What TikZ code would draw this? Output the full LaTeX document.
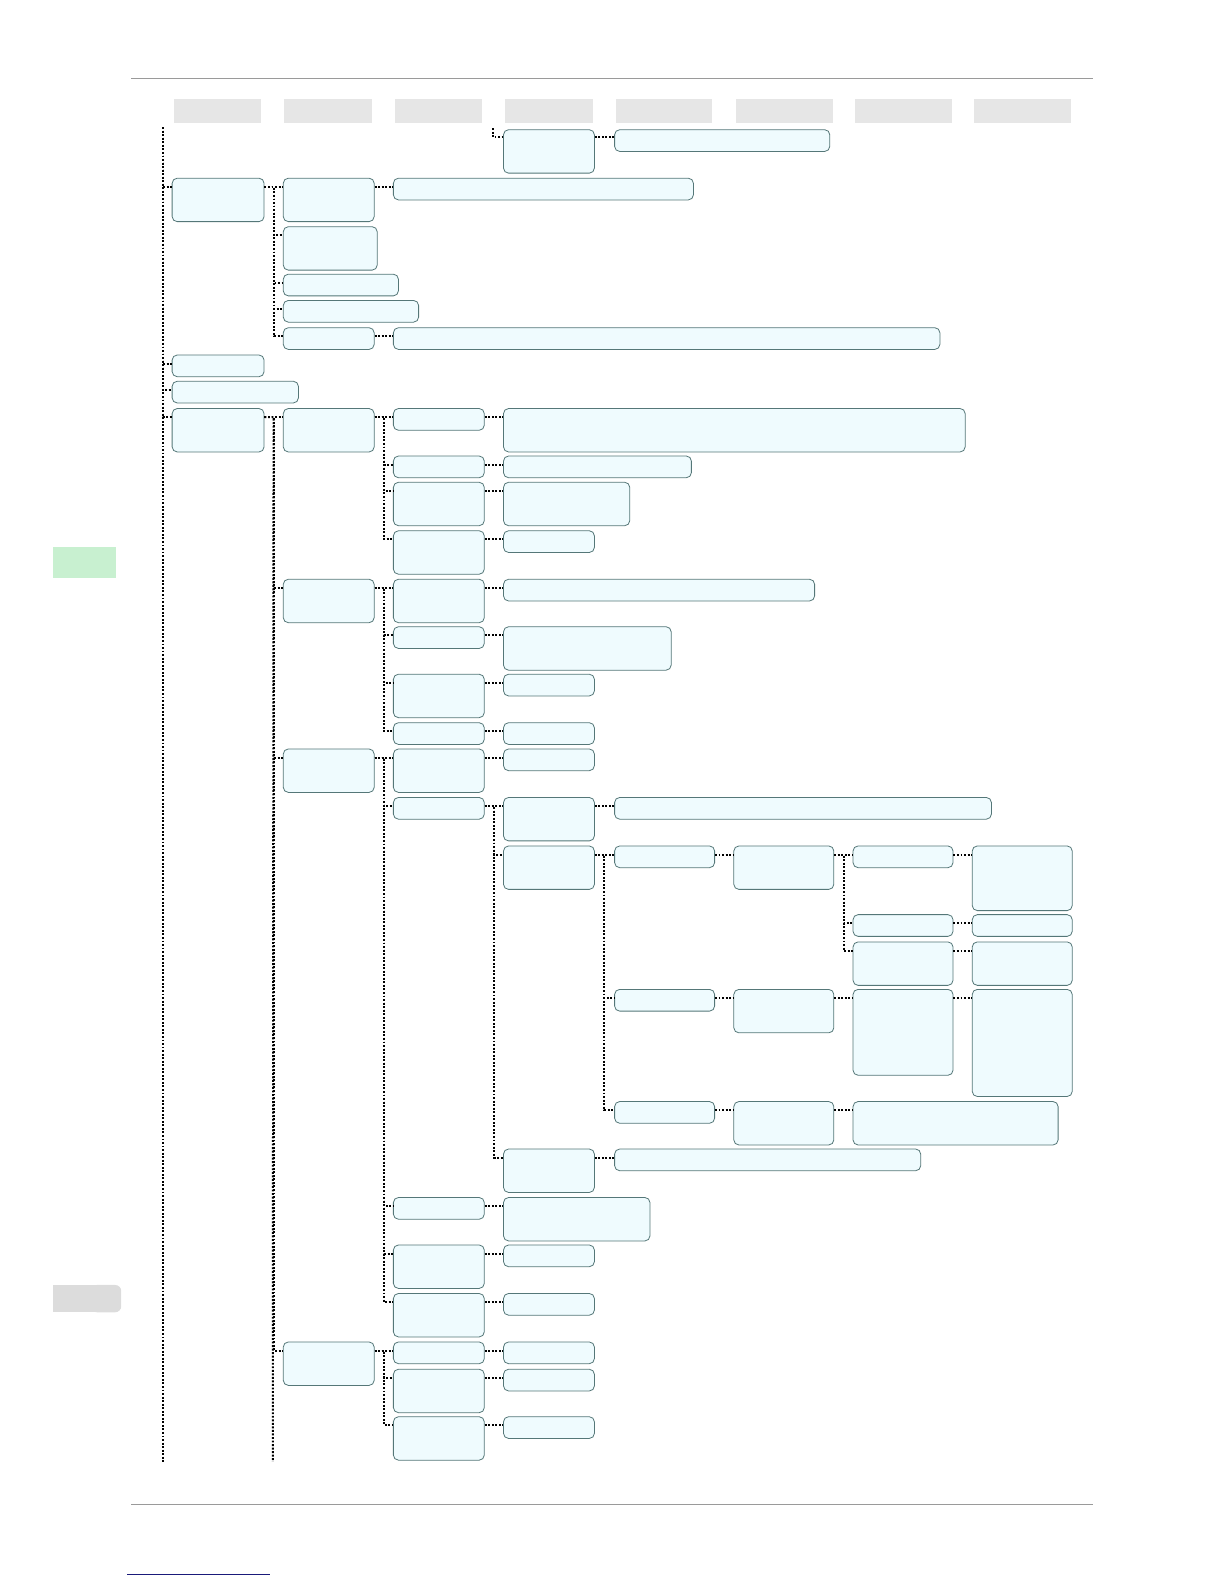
\documentclass[tikz,border=0pt]{standalone}
\usetikzlibrary{calc}
\definecolor{boxfill}{HTML}{EFFBFE}
\definecolor{boxline}{HTML}{557778}
\definecolor{headfill}{HTML}{E6E6E6}
\definecolor{rulegray}{HTML}{9A9A9A}
\definecolor{tabgreen}{HTML}{C8F0D0}
\definecolor{tabgray}{HTML}{DCDCDC}
\definecolor{linkblue}{HTML}{1A1A7A}
\begin{document}
\begin{tikzpicture}[x=1pt, y=-1pt, box/.style={draw=boxline, fill=boxfill, line width=0.8pt, rounded corners=5pt, anchor=north west, inner sep=0pt, minimum width=90pt, minimum height=21.5pt}, tall/.style={minimum height=43pt}, wide/.style={minimum width=99pt}, head/.style={fill=headfill, anchor=north west, inner sep=0pt, minimum height=24pt}, link/.style={line width=2pt, dash pattern=on 1.9pt off 1.6pt}]
\useasboundingbox (0,0) rectangle (1212,1568);
% page furniture
\draw[rulegray, line width=1pt] (130,78) -- (1082,78);
\draw[rulegray, line width=1pt] (130,1489) -- (1082,1489);
\draw[linkblue, line width=1pt] (126,1559) -- (267,1559);
\fill[tabgreen] (52,541) rectangle (115,572);
\fill[tabgray] (52,1272) rectangle (110,1299);
\fill[tabgray, rounded corners=6pt] (90,1272) rectangle (120,1299);
\foreach \x/\w [count=\i] in {172/86, 281/87, 391/86, 500/87, 610/95, 728/96, 846/96, 964/96}
  \node[head, minimum width=\w pt] (head\i) at (\x,98) {};
% continued from previous page
\node[box, tall] (cont) at (498,128) {};
\node[box, minimum width=213pt] (contA) at (608,128) {};
% level 1
\node[box, tall, minimum width=91pt] (A) at (170,176) {};
\node[box, minimum width=91pt] (B) at (170,351) {};
\node[box, minimum width=125pt] (C) at (170,377) {};
\node[box, tall, minimum width=91pt] (D) at (170,404) {};
% first group
\node[box, tall] (A1) at (280,176) {};
\node[box, minimum width=297pt] (A1a) at (389,176) {};
\node[box, tall, minimum width=93pt] (A2) at (280,224) {};
\node[box, minimum width=114pt] (A3) at (280,271) {};
\node[box, minimum width=134pt] (A4) at (280,297) {};
\node[box] (A5) at (280,324) {};
\node[box, minimum width=541pt] (A5a) at (389,324) {};
% fourth group
\node[box, tall] (D1) at (280,404) {};
\node[box] (D1a) at (389,404) {};
\node[box, tall, minimum width=457pt] (D1a1) at (498,404) {};
\node[box] (D1b) at (389,451) {};
\node[box, minimum width=186pt] (D1b1) at (498,451) {};
\node[box, tall] (D1c) at (389,477) {};
\node[box, tall, minimum width=125pt] (D1c1) at (498,477) {};
\node[box, tall] (D1d) at (389,525) {};
\node[box] (D1d1) at (498,525) {};
\node[box, tall] (D2) at (280,573) {};
\node[box, tall] (D2a) at (389,573) {};
\node[box, minimum width=308pt] (D2a1) at (498,573) {};
\node[box] (D2b) at (389,620) {};
\node[box, tall, minimum width=166pt] (D2b1) at (498,620) {};
\node[box, tall] (D2c) at (389,667) {};
\node[box] (D2c1) at (498,667) {};
\node[box] (D2d) at (389,715) {};
\node[box] (D2d1) at (498,715) {};
\node[box, tall] (D3) at (280,741) {};
\node[box, tall] (D3a) at (389,741) {};
\node[box] (D3a1) at (498,741) {};
\node[box] (D3b) at (389,789) {};
\node[box, tall] (D3b1) at (498,789) {};
\node[box, minimum width=373pt] (D3b1a) at (608,789) {};
\node[box, tall] (D3b2) at (498,837) {};
\node[box, wide] (E1) at (608,837) {};
\node[box, wide, tall] (E1a) at (726,837) {};
\node[box, wide] (E1a1) at (844,837) {};
\node[box, wide, minimum height=64pt] (E1a1a) at (962,837) {};
\node[box, wide] (E1a2) at (844,905) {};
\node[box, wide] (E1a2a) at (962,905) {};
\node[box, wide, tall] (E1a3) at (844,932) {};
\node[box, wide, tall] (E1a3a) at (962,932) {};
\node[box, wide] (E2) at (608,979) {};
\node[box, wide, tall] (E2a) at (726,979) {};
\node[box, wide, minimum height=85pt] (E2a1) at (844,979) {};
\node[box, wide, minimum height=106pt] (E2a1a) at (962,979) {};
\node[box, wide] (E3) at (608,1090) {};
\node[box, wide, tall] (E3a) at (726,1090) {};
\node[box, tall, minimum width=203pt] (E3a1) at (844,1090) {};
\node[box, tall] (D3b3) at (498,1137) {};
\node[box, minimum width=303pt] (D3b3a) at (608,1137) {};
\node[box] (D3c) at (389,1185) {};
\node[box, tall, minimum width=145pt] (D3c1) at (498,1185) {};
\node[box, tall] (D3d) at (389,1232) {};
\node[box] (D3d1) at (498,1232) {};
\node[box, tall] (D3e) at (389,1280) {};
\node[box] (D3e1) at (498,1280) {};
\node[box, tall] (D4) at (280,1328) {};
\node[box] (D4a) at (389,1328) {};
\node[box] (D4a1) at (498,1328) {};
\node[box, tall] (D4b) at (389,1355) {};
\node[box] (D4b1) at (498,1355) {};
\node[box, tall] (D4c) at (389,1402) {};
\node[box] (D4c1) at (498,1402) {};
% dotted tree lines
\coordinate (trunktop) at (161,126);
\coordinate (trunkend) at (161,1447);
\coordinate (Dend) at (270,1447);
\coordinate (conttop) at (488,127);
\draw[link] (trunktop) -- (trunkend);
\foreach \n in {A,B,C,D}
  \draw[link] (trunktop) |- ($(\n.north west)+(0,9)$);
\draw[link] (conttop) |- ($(cont.north west)+(0,8)$);
\draw[link] ($(cont.north east)+(0,8)$) -- ($(contA.north west)+(0,8)$);
\draw[link] ($(D.north east)+(0,9)$) -- ++(9,0) -- (Dend);
\foreach \p/\c in {A/A1, A/A2, A/A3, A/A4, A/A5, A1/A1a, A5/A5a,
    D/D1, D/D2, D/D3, D/D4,
    D1/D1a, D1/D1b, D1/D1c, D1/D1d, D1a/D1a1, D1b/D1b1, D1c/D1c1, D1d/D1d1,
    D2/D2a, D2/D2b, D2/D2c, D2/D2d, D2a/D2a1, D2b/D2b1, D2c/D2c1, D2d/D2d1,
    D3/D3a, D3/D3b, D3/D3c, D3/D3d, D3/D3e, D3a/D3a1,
    D3b/D3b1, D3b/D3b2, D3b/D3b3, D3b1/D3b1a, D3b3/D3b3a,
    D3b2/E1, D3b2/E2, D3b2/E3, E1/E1a, E1a/E1a1, E1a/E1a2, E1a/E1a3,
    E1a1/E1a1a, E1a2/E1a2a, E1a3/E1a3a, E2/E2a, E2a/E2a1, E2a1/E2a1a,
    E3/E3a, E3a/E3a1, D3c/D3c1, D3d/D3d1, D3e/D3e1,
    D4/D4a, D4/D4b, D4/D4c, D4a/D4a1, D4b/D4b1, D4c/D4c1}
  \draw[link] ($(\p.north east)+(0,9)$) -- ++(9.5,0) |- ($(\c.north west)+(0,9)$);
\end{tikzpicture}
\end{document}
